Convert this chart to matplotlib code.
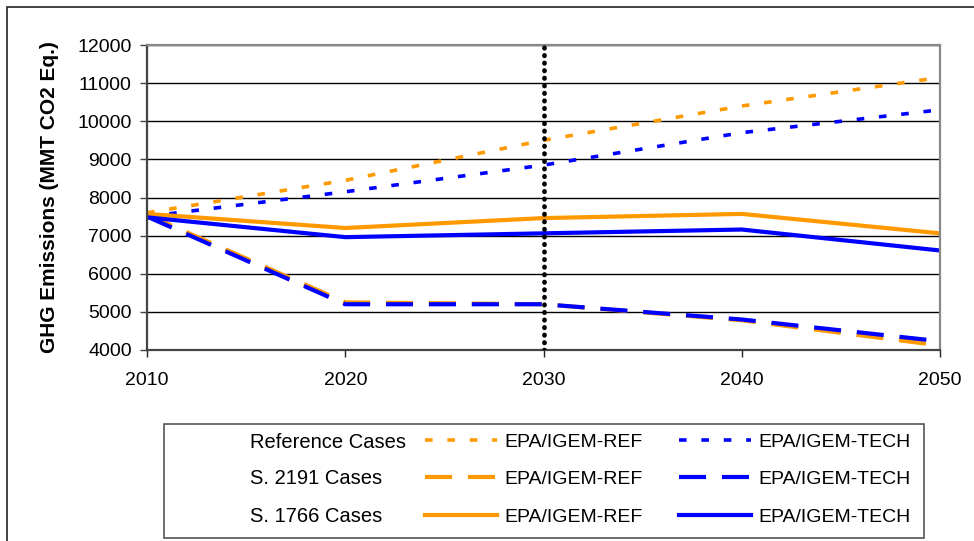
import matplotlib.pyplot as plt
from matplotlib.lines import Line2D
from matplotlib.patches import Rectangle

plt.rcParams['font.family'] = ['Liberation Sans', 'DejaVu Sans']

# data
years = [2010, 2020, 2030, 2040, 2050]
ref_ref = [7600, 8450, 9500, 10400, 11150]
ref_tech = [7500, 8150, 8850, 9700, 10300]
s2191_ref = [7550, 5250, 5200, 4780, 4120]
s2191_tech = [7500, 5200, 5200, 4800, 4230]
s1766_ref = [7570, 7200, 7460, 7570, 7060]
s1766_tech = [7480, 6960, 7060, 7160, 6610]
policy_year = 2030
yticks = [4000, 5000, 6000, 7000, 8000, 9000, 10000, 11000, 12000]
row_names = ['Reference Cases', 'S. 2191 Cases', 'S. 1766 Cases']

ORANGE = '#FF9900'
BLUE = '#0000FF'
W, H = 974, 541

fig = plt.figure(figsize=(W / 100, H / 100), dpi=100)
ax = fig.add_axes([147 / W, 1 - 350 / H, (940 - 147) / W, (350 - 45) / H])

dot = dict(dashes=(2.1, 4.1), dash_capstyle='butt')
dash = dict(dashes=(6.5, 3.8), dash_capstyle='butt')

ax.plot(years, ref_ref, color=ORANGE, lw=2.6, **dot)
ax.plot(years, ref_tech, color=BLUE, lw=2.6, **dot)
ax.plot(years, s2191_ref, color=ORANGE, lw=3.0, **dash)
ax.plot(years, s2191_tech, color=BLUE, lw=3.0, **dash)
ax.plot(years, s1766_ref, color=ORANGE, lw=3.0)
ax.plot(years, s1766_tech, color=BLUE, lw=3.0)

ax.axvline(policy_year, color='black', lw=3.4, dashes=(0.1, 1.5),
           dash_capstyle='round', zorder=5)

ax.set_xlim(years[0], years[-1])
ax.set_ylim(yticks[0], yticks[-1])
ax.set_xticks(years)
ax.set_yticks(yticks)
ax.yaxis.grid(True, color='black', lw=1.0)
ax.set_axisbelow(True)
for side in ['top', 'right']:
    ax.spines[side].set_color('#888888')
    ax.spines[side].set_linewidth(1.6)
for side in ['left', 'bottom']:
    ax.spines[side].set_color('#444444')
    ax.spines[side].set_linewidth(1.6)
ax.tick_params(axis='y', length=5, width=1, pad=6, labelsize=14, color='#444444')
ax.tick_params(axis='x', length=5, width=1, pad=11, labelsize=14, color='#222222')
ax.set_ylabel('GHG Emissions (MMT CO2 Eq.)', fontsize=15, fontweight='bold')
ax.yaxis.set_label_coords(-(147 - 59) / (940 - 147), 0.5)

# legend block
handles = [
    Line2D([], [], color=ORANGE, lw=2.6, **dot),
    Line2D([], [], color=ORANGE, lw=3.0, **dash),
    Line2D([], [], color=ORANGE, lw=3.0),
    Line2D([], [], color=BLUE, lw=2.6, **dot),
    Line2D([], [], color=BLUE, lw=3.0, **dash),
    Line2D([], [], color=BLUE, lw=3.0),
]
labels = ['EPA/IGEM-REF'] * 3 + ['EPA/IGEM-TECH'] * 3
fig.legend(handles, labels, ncol=2, frameon=False, fontsize=14,
           loc='upper left', bbox_to_anchor=(425 / W, 1 - 433 / H),
           borderpad=0, borderaxespad=0, handlelength=3.7, handletextpad=0.36,
           columnspacing=1.9, labelspacing=1.03)
for i, name in enumerate(row_names):
    fig.text(250 / W, 1 - (442 + 37 * i) / H, name, fontsize=14.5,
             ha='left', va='center')

fig.add_artist(Rectangle((164 / W, 1 - 538 / H), (924 - 164) / W, (538 - 424) / H,
                         transform=fig.transFigure, fill=False,
                         ec='#555555', lw=1.2))
fig.add_artist(Rectangle((7 / W, -0.1), 1.2, 1.1 - 7 / H,
                         transform=fig.transFigure, fill=False,
                         ec='#222222', lw=1.2))

fig.savefig('out.png', dpi=100)
